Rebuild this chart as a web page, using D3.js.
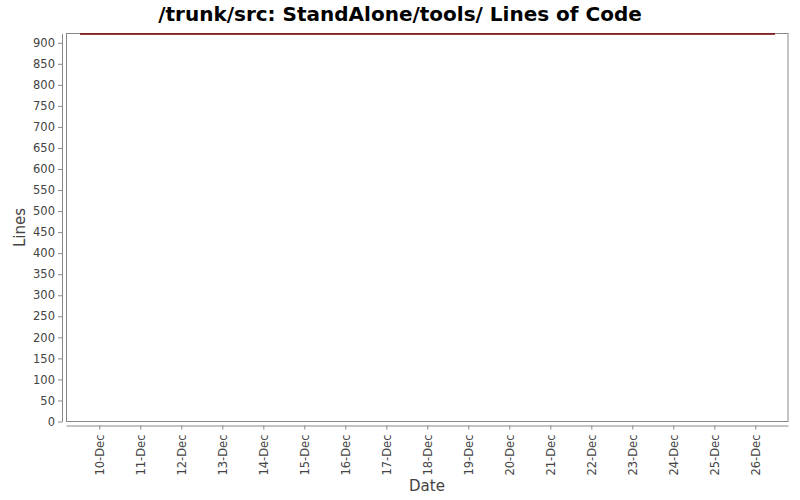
<!DOCTYPE html>
<html>
<head>
<meta charset="utf-8">
<script src="https://cdn.jsdelivr.net/npm/d3@7"></script>
<style>
  html, body { margin: 0; padding: 0; background: #fff; }
  svg { display: block; font-family: "DejaVu Sans", sans-serif; }
</style>
</head>
<body>
<svg id="chart" width="800" height="500"></svg>
<script>
// ---- data ----
const titleText = "/trunk/src: StandAlone/tools/ Lines of Code";
const xLabel = "Date";
const yLabel = "Lines";
const dates = ["2009-12-09T12:40:00Z", "2009-12-26T11:30:00Z"];
const lineCounts = [921, 921];
const xDomain = ["2009-12-09T04:30:00Z", "2009-12-26T19:08:00Z"];
const yMax = 922;
const yTicks = [0, 50, 100, 150, 200, 250, 300, 350, 400, 450, 500, 550, 600, 650, 700, 750, 800, 850, 900];
const tickDates = ["2009-12-10", "2009-12-11", "2009-12-12", "2009-12-13", "2009-12-14", "2009-12-15", "2009-12-16", "2009-12-17", "2009-12-18", "2009-12-19", "2009-12-20", "2009-12-21", "2009-12-22", "2009-12-23", "2009-12-24", "2009-12-25", "2009-12-26"];

// ---- layout ----
const plot = { left: 66, top: 33.5, right: 788, bottom: 421.5 };
const svg = d3.select("#chart");

const x = d3.scaleUtc()
  .domain(xDomain.map(d => new Date(d)))
  .range([plot.left, plot.right]);
const y = d3.scaleLinear()
  .domain([0, yMax])
  .range([plot.bottom, plot.top]);

// title
svg.append("text")
  .attr("x", 400).attr("y", 21)
  .attr("text-anchor", "middle")
  .attr("font-size", 20).attr("font-weight", "bold")
  .attr("fill", "#000")
  .text(titleText);

// plot background + border
svg.append("rect")
  .attr("x", plot.left + 0.5).attr("y", plot.top)
  .attr("width", plot.right - plot.left - 0.5).attr("height", plot.bottom - plot.top)
  .attr("fill", "#fff").attr("stroke", "#888").attr("stroke-width", 1);

// y axis
const yAxis = d3.axisLeft(y).tickValues(yTicks).tickSize(4).tickSizeOuter(0).tickPadding(3);
const gy = svg.append("g").attr("transform", "translate(62,0)").call(yAxis);
gy.select(".domain").attr("stroke", "#888");
gy.selectAll(".tick line").attr("stroke", "#888");
gy.selectAll(".tick text").attr("fill", "#444").attr("font-size", 11.5).attr("font-family", "DejaVu Sans, sans-serif");

// x axis
const fmt = d3.utcFormat("%-d-%b");
const xAxis = d3.axisBottom(x).tickValues(tickDates.map(d => new Date(d))).tickFormat(fmt).tickSize(4).tickSizeOuter(0);
const gx = svg.append("g").attr("transform", "translate(0,425.5)").call(xAxis);
gx.select(".domain").attr("stroke", "#888");
gx.selectAll(".tick line").attr("stroke", "#888");
gx.selectAll(".tick text")
  .attr("fill", "#444").attr("font-size", 11.5).attr("font-family", "DejaVu Sans, sans-serif")
  .attr("transform", "rotate(-90)")
  .attr("text-anchor", "end")
  .attr("x", -9).attr("y", 0).attr("dy", "0.35em");

// axis labels
svg.append("text")
  .attr("x", (plot.left + plot.right) / 2).attr("y", 491)
  .attr("text-anchor", "middle").attr("font-size", 15).attr("fill", "#444")
  .text(xLabel);
svg.append("text")
  .attr("transform", `translate(25,${(plot.top + plot.bottom) / 2}) rotate(-90)`)
  .attr("text-anchor", "middle").attr("font-size", 15).attr("fill", "#444")
  .text(yLabel);

// data line
const line = d3.line().x(d => x(d.date)).y(d => y(d.v));
const data = dates.map((d, i) => ({ date: new Date(d), v: lineCounts[i] }));
svg.append("path")
  .datum(data)
  .attr("d", line)
  .attr("fill", "none").attr("stroke", "#7a0000").attr("stroke-width", 1.5);
</script>
</body>
</html>
